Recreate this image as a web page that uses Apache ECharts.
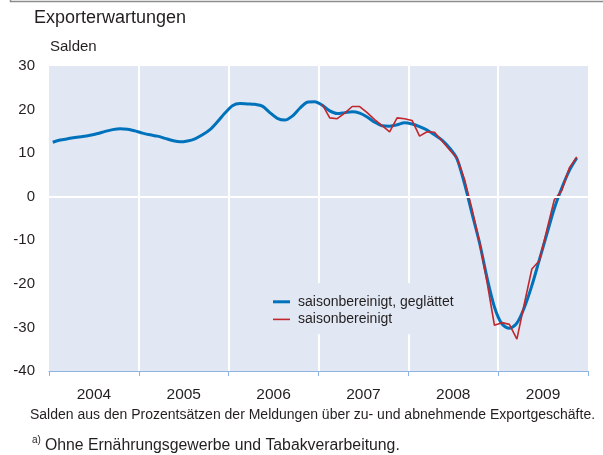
<!DOCTYPE html>
<html>
<head>
<meta charset="utf-8">
<script src="https://cdn.jsdelivr.net/npm/echarts@6/dist/echarts.min.js"></script>
<style>
html,body{margin:0;padding:0;background:#fff;}
#chart{width:603px;height:455px;}
</style>
</head>
<body>
<div id="chart"></div>
<script>
// Months counted from January 2004 (index 0)
var years = ['2004', '2005', '2006', '2007', '2008', '2009'];
var yTicks = [-40, -30, -20, -10, 0, 10, 20, 30];
var zeroLine = 0;

// saisonbereinigt, geglättet: Jan 2004 .. Nov 2009
var smoothStart = 0;
var smoothValues = [
  12.5, 13.0, 13.3, 13.6, 13.8, 14.1, 14.5, 15.0, 15.4, 15.6, 15.5, 15.1,
  14.6, 14.2, 13.9, 13.4, 12.9, 12.6, 12.8, 13.3, 14.2, 15.4, 17.2, 19.2,
  20.9, 21.4, 21.3, 21.2, 20.8, 19.3, 18.0, 17.6, 18.5, 20.3, 21.7, 21.8,
  21.0, 19.7, 19.1, 19.3, 19.5, 19.2, 18.3, 17.1, 16.3, 16.2, 16.5, 17.0,
  16.7, 16.1, 15.3, 14.2, 13.0, 11.2, 8.7, 3.0, -3.8, -10.5, -18.5, -25.3,
  -29.2, -30.2, -29.0, -25.4, -20.4, -14.5, -8.6, -2.7, 2.0, 6.0, 8.9
];

// saisonbereinigt: Jan 2007 .. Nov 2009
var rawStart = 36;
var rawValues = [
  21.2, 18.1, 17.9, 19.2, 20.7, 20.7, 19.3, 17.7, 16.3, 14.9, 18.1, 17.9,
  17.5, 13.9, 14.9, 14.8, 12.8, 10.8, 8.9, 4.0, -2.8, -10.3, -19.5, -29.5,
  -28.9, -29.3, -32.7, -24.5, -16.6, -14.7, -7.6, -0.7, 1.4, 6.6, 9.1
];

var seriesNames = ['saisonbereinigt, geglättet', 'saisonbereinigt'];

function toPairs(start, vals) {
  return vals.map(function (v, i) { return [start + i + 0.5, v]; });
}

var FONT = "'Liberation Sans', Arial, Helvetica, sans-serif";
var TXT = '#231F20';
var BG = '#E1E8F3';
var BLUE = '#0072BC';
var RED = '#C1272D';

var chart = echarts.init(document.getElementById('chart'), null, {renderer: 'canvas'});
chart.setOption({
  animation: false,
  textStyle: {fontFamily: FONT, color: TXT},
  grid: {left: 49, right: 15, top: 66, bottom: 84, show: true, backgroundColor: BG, borderWidth: 0, containLabel: false},
  xAxis: [{
    type: 'value', min: 0, max: 72, interval: 12, position: 'bottom',
    axisLine: {show: true, onZero: false, lineStyle: {color: '#8DB4E2', width: 1}},
    axisTick: {show: true, inside: false, length: 5, lineStyle: {color: '#8DB4E2', width: 1}},
    axisLabel: {show: false},
    splitLine: {show: true, showMinLine: false, showMaxLine: false, lineStyle: {color: '#ffffff', width: 2}}
  }, {
    type: 'category', data: years, boundaryGap: true, position: 'bottom',
    axisLine: {show: false, onZero: false}, axisTick: {show: false}, splitLine: {show: false},
    axisLabel: {show: true, margin: 16, fontSize: 15.5, color: TXT, fontFamily: FONT}
  }],
  yAxis: [{
    type: 'value', min: yTicks[0], max: yTicks[yTicks.length - 1], interval: 10,
    axisLine: {show: false}, axisTick: {show: false}, splitLine: {show: false},
    axisLabel: {show: true, margin: 14, fontSize: 15, color: TXT, fontFamily: FONT}
  }],
  legend: {
    orient: 'vertical', left: 268, top: 283,
    padding: [10, 10, 6, 5], backgroundColor: BG,
    itemWidth: 17, itemHeight: 3, itemGap: 0, symbolKeepAspect: true,
    textStyle: {fontSize: 14, lineHeight: 17.6, color: TXT, fontFamily: FONT, padding: [0, 0, 0, 3]},
    data: [
      {name: seriesNames[0], icon: 'path://M0,0H17V3H0Z', itemStyle: {color: BLUE}},
      {name: seriesNames[1], icon: 'path://M0,0H17V1.6H0Z', itemStyle: {color: RED}}
    ]
  },
  series: [{
    name: 'zero', type: 'line', xAxisIndex: 0, yAxisIndex: 0, data: [], z: 1,
    markLine: {
      silent: true, symbol: ['none', 'none'], label: {show: false},
      lineStyle: {color: '#ffffff', width: 2, type: 'solid'},
      emphasis: {disabled: true},
      data: [{yAxis: zeroLine}]
    }
  }, {
    name: seriesNames[0], type: 'line', xAxisIndex: 0, yAxisIndex: 0,
    data: toPairs(smoothStart, smoothValues),
    showSymbol: false, symbol: 'none', smooth: 0.3,
    lineStyle: {color: BLUE, width: 3},
    itemStyle: {color: BLUE}, z: 3
  }, {
    name: seriesNames[1], type: 'line', xAxisIndex: 0, yAxisIndex: 0,
    data: toPairs(rawStart, rawValues),
    showSymbol: false, symbol: 'none',
    lineStyle: {color: RED, width: 1.6},
    itemStyle: {color: RED}, z: 4
  }],
  graphic: [
    {type: 'polyline', shape: {points: [[10.5, 0], [10.5, 1.5], [603, 1.5]]}, style: {stroke: '#8C8C8C', lineWidth: 1.5, fill: null}},
    {type: 'text', x: 34, y: 18, style: {text: 'Exporterwartungen', font: '18px ' + FONT, fill: TXT, verticalAlign: 'middle'}},
    {type: 'text', x: 50, y: 47, style: {text: 'Salden', font: '15px ' + FONT, fill: TXT, verticalAlign: 'middle'}},
    {type: 'text', x: 30, y: 415, style: {text: 'Salden aus den Prozentsätzen der Meldungen über zu- und abnehmende Exportgeschäfte.', font: '14px ' + FONT, fill: TXT, verticalAlign: 'middle'}},
    {type: 'text', x: 32, y: 440, style: {text: 'a)', font: '10px ' + FONT, fill: TXT, verticalAlign: 'middle'}},
    {type: 'text', x: 45, y: 446, style: {text: 'Ohne Ernährungsgewerbe und Tabakverarbeitung.', font: '15.8px ' + FONT, fill: TXT, verticalAlign: 'middle'}}
  ]
});
</script>
</body>
</html>
